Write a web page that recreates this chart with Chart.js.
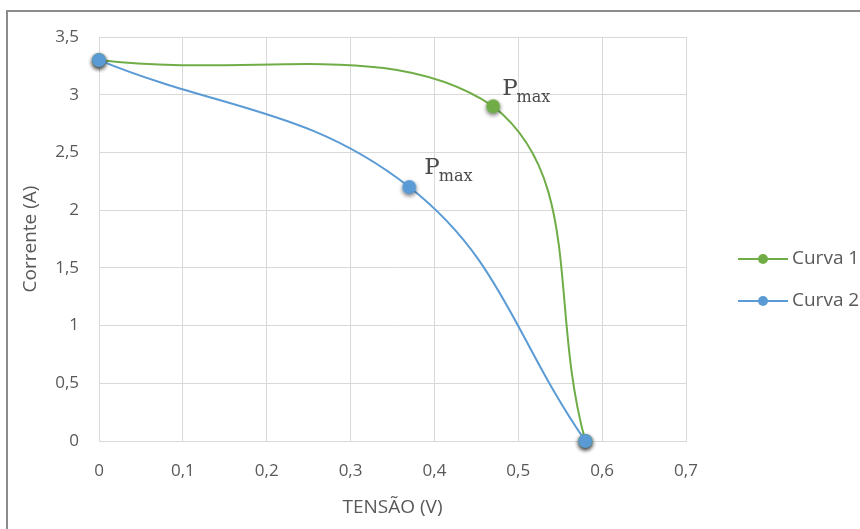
<!DOCTYPE html>
<html>
<head>
<meta charset="utf-8">
<script src="https://cdn.jsdelivr.net/npm/chart.js@4.4.1/dist/chart.umd.min.js"></script>
<style>
  html, body { margin: 0; padding: 0; background: #ffffff; overflow: hidden; }
  #wrap { position: relative; width: 860px; height: 529px; overflow: hidden; }
  #frame { position: absolute; left: 6px; top: 10px; width: 900px; height: 600px; border: 2px solid #8c8c8c; box-sizing: border-box; pointer-events: none; }
  canvas { position: absolute; left: 0; top: 0; }
</style>
</head>
<body>
<div id="wrap">
  <canvas id="c" width="860" height="529"></canvas>
  <div id="frame"></div>
</div>
<script>
// ---- data ----
const seriesNames = ['Curva 1', 'Curva 2'];
const curva1X = [0, 0.47, 0.58];
const curva1Y = [3.3, 2.9, 0];
const curva2X = [0, 0.37, 0.58];
const curva2Y = [3.3, 2.2, 0];
const xTickLabels = ['0', '0,1', '0,2', '0,3', '0,4', '0,5', '0,6', '0,7'];
const yTickLabels = ['0', '0,5', '1', '1,5', '2', '2,5', '3', '3,5'];
const xTitle = 'TENSÃO (V)';
const yTitle = 'Corrente (A)';
const annotMain = 'P';
const annotSub = 'max';
const annotPoints = [[0, 1], [1, 1]]; // [dataset index, point index]

// ---- styling ----
const GREEN = '#70ad47';
const BLUE = '#5b9bd5';
const TEXT = '#595959';
const GRID = '#d9d9d9';
const FONT = "'Open Sans', sans-serif";

function makeMarker(color, r, shadow) {
  const pad = 6;
  const size = 2 * (r + pad);
  const cv = document.createElement('canvas');
  cv.width = size; cv.height = size;
  const g = cv.getContext('2d');
  if (shadow) {
    g.shadowColor = 'rgba(0,0,0,0.55)';
    g.shadowBlur = 4;
    g.shadowOffsetX = 0;
    g.shadowOffsetY = 2;
  }
  g.beginPath();
  g.arc(size / 2, size / 2, r, 0, Math.PI * 2);
  g.fillStyle = color;
  g.fill();
  return cv;
}

function toPts(xs, ys) { return xs.map((x, i) => ({ x: x, y: ys[i] })); }

const customLegend = {
  id: 'customLegend',
  afterDraw(chart) {
    const ctx = chart.ctx;
    const ds = chart.data.datasets;
    const x0 = 738, x1 = 788;
    const ys = [259, 301];
    ctx.save();
    ds.forEach((d, i) => {
      const y = ys[i];
      ctx.strokeStyle = d.borderColor;
      ctx.lineWidth = 2;
      ctx.beginPath(); ctx.moveTo(x0, y); ctx.lineTo(x1, y); ctx.stroke();
      ctx.beginPath(); ctx.arc((x0 + x1) / 2, y, 5, 0, Math.PI * 2);
      ctx.fillStyle = d.borderColor; ctx.fill();
      ctx.fillStyle = TEXT;
      ctx.font = '19px ' + FONT;
      ctx.textBaseline = 'middle';
      ctx.textAlign = 'left';
      ctx.fillText(d.label, x1 + 4, y);
    });
    ctx.restore();
  }
};

const annotations = {
  id: 'pmaxLabels',
  afterDatasetsDraw(chart) {
    const ctx = chart.ctx;
    ctx.save();
    ctx.fillStyle = '#4a4a4a';
    ctx.textBaseline = 'alphabetic';
    ctx.textAlign = 'left';
    annotPoints.forEach(([di, pi], k) => {
      const el = chart.getDatasetMeta(di).data[pi];
      const px = el.x + (k === 0 ? 9 : 15);
      const py = el.y - (k === 0 ? 11 : 13);
      ctx.font = '23px "DejaVu Serif", serif';
      ctx.fillText(annotMain, px, py);
      const w = ctx.measureText(annotMain).width;
      ctx.font = '16px "DejaVu Serif", serif';
      ctx.fillText(annotSub, px + w - 1, py + 7);
    });
    ctx.restore();
  }
};

new Chart(document.getElementById('c'), {
  type: 'line',
  data: {
    datasets: [
      {
        label: seriesNames[0],
        data: toPts(curva1X, curva1Y),
        borderColor: GREEN,
        backgroundColor: GREEN,
        borderWidth: 2,
        tension: 0.4,
        pointStyle: makeMarker(GREEN, 7, true),
        pointRadius: 7,
        clip: false,
        order: 1
      },
      {
        label: seriesNames[1],
        data: toPts(curva2X, curva2Y),
        borderColor: BLUE,
        backgroundColor: BLUE,
        borderWidth: 2,
        tension: 0.4,
        pointStyle: makeMarker(BLUE, 7, true),
        pointRadius: 7,
        clip: false,
        order: 0
      }
    ]
  },
  options: {
    responsive: false,
    animation: false,
    events: [],
    layout: { padding: { left: 0, top: 37, right: 174, bottom: 0 } },
    plugins: { legend: { display: false }, tooltip: { enabled: false } },
    scales: {
      x: {
        type: 'linear',
        min: 0, max: 0.7,
        afterBuildTicks(scale) {
          scale.ticks = xTickLabels.map((_, i) => ({ value: i / 10 }));
        },
        afterFit(scale) { scale.height = 88; },
        grid: { color: GRID, lineWidth: 1, drawTicks: false },
        border: { color: GRID, width: 1 },
        ticks: {
          padding: 20,
          color: TEXT,
          font: { family: FONT, size: 17 },
          maxRotation: 0,
          callback: (v, i) => xTickLabels[i]
        },
        title: {
          display: true, text: xTitle, color: TEXT,
          font: { family: FONT, size: 19 },
          padding: { top: 0, bottom: 10 }
        }
      },
      y: {
        type: 'linear',
        min: 0, max: 3.5,
        afterBuildTicks(scale) {
          scale.ticks = yTickLabels.map((_, i) => ({ value: i * 0.5 }));
        },
        afterFit(scale) { scale.width = 99; },
        grid: { color: GRID, lineWidth: 1, drawTicks: false },
        border: { display: false },
        ticks: {
          padding: 20,
          color: TEXT,
          font: { family: FONT, size: 17 },
          callback: (v, i) => yTickLabels[i]
        },
        title: {
          display: true, text: yTitle, color: TEXT,
          font: { family: FONT, size: 19 },
          padding: { top: 19, bottom: 0 }
        }
      }
    }
  },
  plugins: [annotations, customLegend]
});
</script>
</body>
</html>
